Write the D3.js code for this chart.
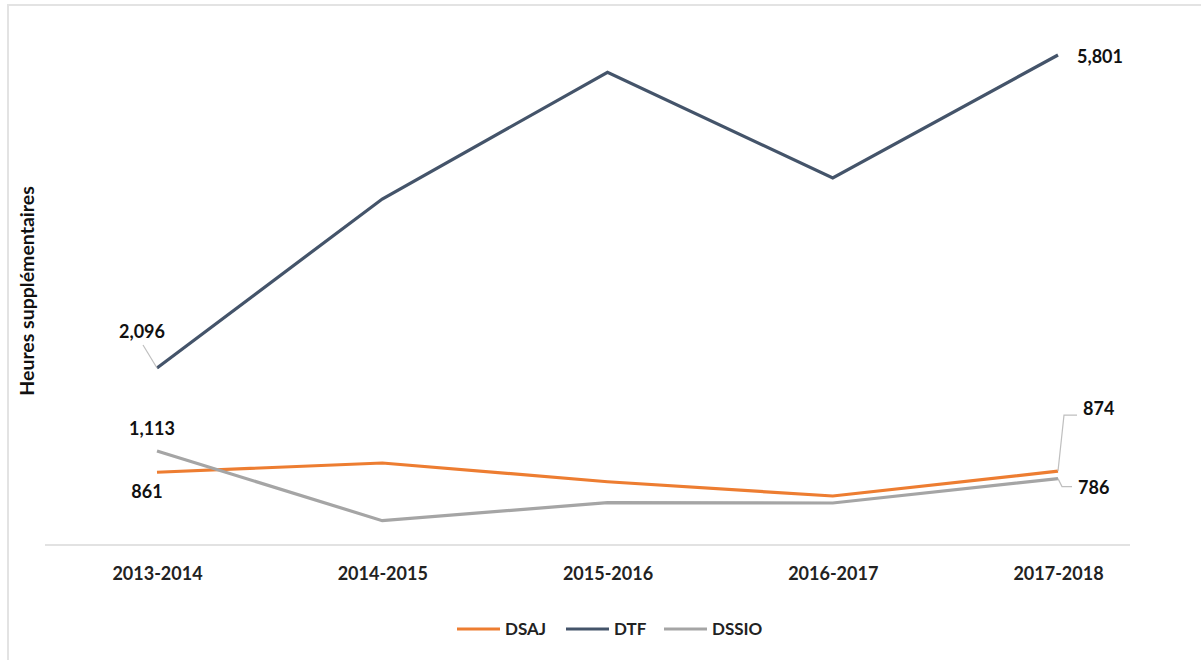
<!DOCTYPE html>
<html>
<head>
<meta charset="utf-8">
<script src="https://cdn.jsdelivr.net/npm/d3@7"></script>
<style>
  html, body { margin: 0; padding: 0; background: #fff; }
  svg { display: block; font-family: Lato, "Open Sans", sans-serif; }
</style>
</head>
<body>
<svg id="chart" width="1201" height="660"></svg>
<script>
const categories = ["2013-2014", "2014-2015", "2015-2016", "2016-2017", "2017-2018"];
const seriesNames = ["DSAJ", "DTF", "DSSIO"];
const dsaj = [861, 971, 749, 580, 874];
const dtf = [2096, 4096, 5596, 4345, 5801];
const dssio = [1113, 288, 501, 497, 786];
const colors = ["#ED7D31", "#44546A", "#A5A5A5"];
const yTitle = "Heures supplémentaires";
// labelled points: [seriesIndex, categoryIndex]
const labelled = [[1, 0], [1, 4], [2, 0], [0, 0], [0, 4], [2, 4]];

const series = [dsaj, dtf, dssio];
const svg = d3.select("#chart");

// frame
svg.append("rect").attr("x", 8).attr("y", 5).attr("width", 1200).attr("height", 700)
  .attr("fill", "none").attr("stroke", "#e3e3e3").attr("stroke-width", 2);

const x = d3.scalePoint().domain(categories).range([157, 1058]);
const y = d3.scaleLinear().domain([0, 5801]).range([545, 55]);

// x axis
const xAxis = svg.append("g").attr("transform", `translate(0,${y(0)})`)
  .call(d3.axisBottom(x).tickSize(0).tickPadding(22));
xAxis.select(".domain").attr("stroke", "#d9d9d9").attr("stroke-width", 1.5)
  .attr("d", "M45,0H1130");
xAxis.selectAll("text").attr("font-family", "Lato, sans-serif")
  .attr("font-size", 18).attr("font-weight", "bold").attr("fill", "#222");

// y title
svg.append("text")
  .attr("transform", `translate(34,291) rotate(-90)`)
  .attr("text-anchor", "middle")
  .attr("font-size", 19.5).attr("font-weight", "bold").attr("fill", "#111")
  .text(yTitle);

// lines
const line = d3.line().x((d, i) => x(categories[i])).y(d => y(d));
series.forEach((s, k) => {
  svg.append("path").datum(s).attr("d", line)
    .attr("fill", "none").attr("stroke", colors[k]).attr("stroke-width", 3.2)
    .attr("stroke-linejoin", "miter");
});

// leader lines
const fmt = d3.format(",");
const leaders = svg.append("g").attr("stroke", "#bfbfbf").attr("stroke-width", 1.2).attr("fill", "none");
// 2,096
leaders.append("path").attr("d",
  `M${x(categories[0])},${y(dtf[0])} L${x(categories[0]) - 14},${y(dtf[0]) - 23}`);
// 874
leaders.append("path").attr("d",
  `M${x(categories[4])},${y(dsaj[4])} L${x(categories[4]) + 6},${y(dsaj[4]) - 56} H${x(categories[4]) + 19}`);
// 786
leaders.append("path").attr("d",
  `M${x(categories[4])},${y(dssio[4])} L${x(categories[4]) + 4},${y(dssio[4]) + 8} H${x(categories[4]) + 14}`);

// data labels (offsets relative to the point)
const labelOffsets = {
  "1,0": [-15, -30, "middle"],
  "1,4": [19, 8, "start"],
  "2,0": [-5, -16, "middle"],
  "0,0": [-10, 26, "middle"],
  "0,4": [25, -56, "start"],
  "2,4": [20, 15, "start"]
};
labelled.forEach(([si, ci]) => {
  const o = labelOffsets[si + "," + ci];
  svg.append("text")
    .attr("x", x(categories[ci]) + o[0])
    .attr("y", y(series[si][ci]) + o[1])
    .attr("text-anchor", o[2])
    .attr("font-size", 18).attr("font-weight", "bold").attr("fill", "#111")
    .text(fmt(series[si][ci]));
});

// legend
const legendX = [457, 566, 664];
const lg = svg.append("g");
seriesNames.forEach((n, k) => {
  lg.append("line").attr("x1", legendX[k]).attr("x2", legendX[k] + 43)
    .attr("y1", 629).attr("y2", 629).attr("stroke", colors[k]).attr("stroke-width", 3);
  lg.append("text").attr("x", legendX[k] + 48).attr("y", 635)
    .attr("font-size", 17).attr("font-weight", "bold").attr("fill", "#222").text(n);
});
</script>
</body>
</html>
